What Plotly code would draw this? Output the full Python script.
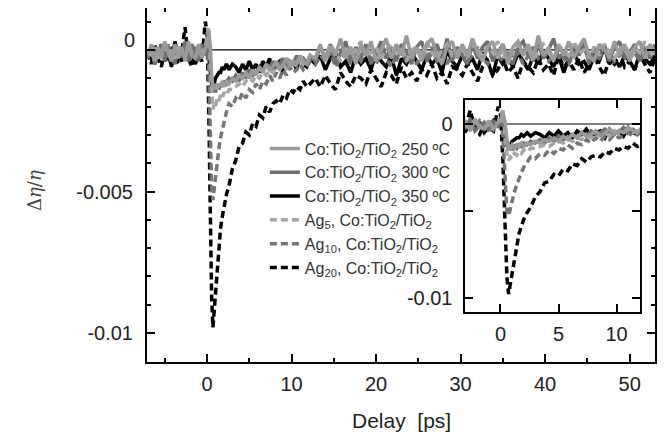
import plotly.graph_objects as go

# Delay axis (ps) - sampling points of the traces
delay = [
    -7.0, -6.6, -6.2, -5.8, -5.4, -5.0, -4.6, -4.2, -3.8, -3.4,
    -3.0, -2.6, -2.2, -1.8, -1.4, -1.0, -0.6, -0.2,
    0.0, 0.2, 0.4, 0.55, 0.7, 0.85, 1.0, 1.2, 1.4, 1.6, 1.8, 2.0, 2.3, 2.6, 3.0,
    3.4, 3.8, 4.2, 4.6, 5.0, 5.4, 5.8, 6.2, 6.6, 7.0,
    7.4, 7.8, 8.2, 8.6, 9.0, 9.4, 9.8, 10.2, 10.6, 11.0,
    11.4, 11.8, 12.2,
    12.8, 13.4, 14.0, 14.6, 15.2, 15.8, 16.4, 17.0, 17.6, 18.2,
    18.8, 19.4, 20.0, 20.6, 21.2, 21.8, 22.4, 23.0, 23.6, 24.2,
    24.8, 25.4, 26.0, 26.6, 27.2, 27.8, 28.4, 29.0, 29.6, 30.2,
    30.8, 31.4, 32.0, 32.6, 33.2, 33.8, 34.4, 35.0, 35.6, 36.2,
    36.8, 37.4, 38.0, 38.6, 39.2, 39.8, 40.4, 41.0, 41.6, 42.2,
    42.8, 43.4, 44.0, 44.6, 45.2, 45.8, 46.4, 47.0, 47.6, 48.2,
    48.8, 49.4, 50.0, 50.6, 51.2, 51.8, 52.4, 53.0,
]

UNIT = 1e-4  # values below are Δη/η in units of 1e-4

co250 = [
    -2, 2, -4, 1, -3, 3, -1, -4, 2, -3, 1, -4, 3, -2, -3, 2, -3, 1,
    2, 7, 1, -9, -13, -14, -12, -14, -12, -13, -11, -13, -11, -12, -10,
    -11, -9, -10, -8, -10, -7, -9, -6, -8, -5, -7, -6, -4, -7, -5, -3, -6, -4, -5, -2, -4, -5, -2,
    -3, 2, -4, 1, -2, 4, -3, 1, -5, 2,
    -2, 3, -4, 0, 4, -3, 2, -2, 5, -3,
    1, -4, 2, 4, -2, -5, 1, 3, -3, 2,
    -2, 4, -1, -4, 1, 3, -3, 2, -5, 1,
    3, -2, 2, -3, 5, -2, 1, -4, 2, -2,
    3, -3, 1, 4, -2, -4, 2, 0, -3, 3,
    -2, 2, -4, 1, 3, -3, 2, -1,
]

co300 = [
    -3, 1, -5, -1, 2, -4, 1, -3, -5, 1, -2, 3, -4, -1, 1, -4, 2, -2,
    1, 2, -5, -11, -15, -13, -15, -12, -14, -12, -13, -11, -12, -10, -11,
    -9, -11, -8, -10, -7, -9, -8, -6, -8, -5, -7, -4, -6, -5, -3, -6, -4, -5, -2, -4, -3, -5, -2,
    -4, 1, -3, 2, -5, -1, 3, -4, 1, -3,
    2, -5, -1, 3, -3, 1, -4, 2, -1, -5,
    1, 3, -4, -1, 2, -3, 4, -4, 1, -2,
    -5, 2, -3, 1, 3, -4, -1, 2, -3, -5,
    1, 3, -2, -4, 2, -3, 0, 4, -3, -1,
    -4, 2, -2, 3, -5, 1, -3, 2, -4, 1,
    3, -3, -1, 2, -4, 1, -3, 2,
]

co350 = [
    -3, 1, -5, -2, 2, -4, -1, -6, 3, -2, -4, 0, -3, 1, -5, -2, 2, 0,
    3, -2, -8, -12, -13, -12, -10, -9, -8, -8, -6, -7, -5, -7, -5,
    -6, -8, -5, -7, -4, -7, -5, -8, -4, -6, -3, -7, -5, -4, -8, -3, -6, -4, -7, -2, -5, -6, -3,
    -5, -2, -7, -3, -1, -6, -4, -8, -2, -5,
    -3, -7, -1, -4, -6, -2, -9, -3, -5, -1,
    -4, -7, -2, -5, -3, -8, 0, -4, -6, -2,
    -5, -3, -7, -1, -4, -9, -2, -5, -3, -6,
    -1, -4, -7, -2, -5, 0, -3, -6, -2, -8,
    -3, -1, -5, -4, -7, -2, -4, 1, -5, -3,
    -6, -2, -4, -7, -1, -3, -5, -2,
]

ag5 = [
    0, -2, 1, -3, -1, 2, -2, 0, -3, 1, -1, -2, 2, -1, -3, 0, -1, 1,
    5, 8, -6, -17, -21, -19, -20, -17, -18, -16, -17, -15, -16, -14, -14,
    -13, -12, -13, -11, -10, -11, -9, -10, -8, -9, -7, -8, -6, -7, -5, -7, -4, -6, -5, -3, -5, -4, -2,
    -3, 0, -2, 2, -1, -4, 1, -2, 0, 3,
    -2, -1, 1, -3, 0, 2, -2, 1, -4, 0,
    1, -2, 3, -1, -3, 0, 2, -2, -1, 1,
    -3, 2, 0, -2, 1, -1, 3, -3, 0, -1,
    2, -2, 1, -4, 0, 2, -1, -3, 1, 0,
    -2, 3, -1, 0, -3, 1, -2, 2, -1, -3,
    0, 2, -2, 1, -1, 3, -2, 0,
]

ag10 = [
    -2, 1, -3, -1, 0, -4, 2, -2, -1, 1, -3, 0, -2, 2, -1, -3, 0, 1,
    2, -6, -30, -50, -53, -49, -43, -39, -35, -31, -28, -25, -22, -19, -20,
    -17, -18, -15, -17, -14, -15, -12, -14, -11, -12, -9, -11, -8, -10, -7, -9, -6, -8, -7, -5, -7, -6, -4,
    -5, -2, -4, -1, -6, -3, -1, -5, -2, -4,
    0, -3, -5, -1, -3, -6, -2, 0, -4, -2,
    -5, -1, -3, 1, -4, -2, -5, -1, -3, 0,
    -4, -2, 1, -3, -5, -1, -2, -4, 0, -3,
    -1, -5, -2, 1, -3, -1, -4, -2, 0, -3,
    -5, -1, -2, 1, -4, -2, -3, 0, -1, -4,
    -2, 1, -3, -1, -4, 0, -2, -1,
]

ag20 = [
    -1, -5, 2, -3, -6, 0, -4, 1, -2, -5, -1, 8, -3, -6, 0, -2, -4, 10,
    6, -20, -60, -88, -98, -92, -86, -80, -70, -63, -59, -55, -51, -48, -42,
    -39, -34, -33, -29, -30, -26, -27, -23, -24, -20, -22, -19, -18, -19, -16, -17, -14, -15, -13, -14, -11, -13, -12,
    -10, -13, -9, -12, -14, -8, -11, -13, -9, -10,
    -12, -7, -10, -13, -8, -9, -12, -6, -10, -8,
    -11, -7, -9, -5, -10, -8, -12, -6, -7, -9,
    -5, -8, -11, -6, -4, -9, -7, -3, -8, -6,
    -10, -4, -6, -8, -3, -7, -5, -9, -2, -6,
    -4, -7, -3, -8, -5, -2, -6, -9, -3, -5,
    -1, -6, -4, -7, -2, -5, -8, -3,
]

series_names = [
    "Co:TiO<sub>2</sub>/TiO<sub>2</sub> 250 ºC",
    "Co:TiO<sub>2</sub>/TiO<sub>2</sub> 300 ºC",
    "Co:TiO<sub>2</sub>/TiO<sub>2</sub> 350 ºC",
    "Ag<sub>5</sub>, Co:TiO<sub>2</sub>/TiO<sub>2</sub>",
    "Ag<sub>10</sub>, Co:TiO<sub>2</sub>/TiO<sub>2</sub>",
    "Ag<sub>20</sub>, Co:TiO<sub>2</sub>/TiO<sub>2</sub>",
]
series_values = [co250, co300, co350, ag5, ag10, ag20]
series_colors = ["#9a9a9a", "#6e6e6e", "#000000", "#a6a6a6", "#757575", "#000000"]
series_dash = ["solid", "solid", "solid", "7px,4px", "7px,4px", "7px,4px"]
draw_order = [5, 2, 4, 1, 3, 0]

main_xticks = [0, 10, 20, 30, 40, 50]
y_ticks = [0, -0.005, -0.01]
y_ticktext = ["", "-0.005", "-0.01"]   # the "0" label is placed slightly above its tick
inset_xticks = [0, 5, 10]
inset_ytext = ["0", "", "-0.01"]

FONT = "Liberation Sans, Arial, sans-serif"

fig = go.Figure()
n = len(delay)
for i in draw_order:
    yv = [v * UNIT for v in series_values[i][:n]]
    xv = delay[:len(yv)]
    line = dict(color=series_colors[i], width=3.5, dash=series_dash[i])
    fig.add_trace(go.Scatter(x=xv, y=yv, mode="lines", name=series_names[i],
                             line=line, legendrank=i + 1, xaxis="x", yaxis="y"))
    fig.add_trace(go.Scatter(x=xv, y=yv, mode="lines", showlegend=False,
                             line=line, xaxis="x2", yaxis="y2"))

axis_common = dict(showline=True, linecolor="black", linewidth=2, mirror="ticks",
                   ticks="inside", ticklen=8, tickwidth=2, tickcolor="black",
                   showgrid=False, zeroline=False, automargin=False,
                   tickfont=dict(family=FONT, size=20, color="#222"))

# the page body adds an 8 px offset; the figure is sized/margined to compensate
fig.update_layout(
    width=657, height=436,
    margin=dict(l=139, r=10, t=0, b=82, autoexpand=False),
    paper_bgcolor="white", plot_bgcolor="white",
    font=dict(family=FONT, color="#222"),
    xaxis=dict(range=[-7.1, 53.0], tickvals=main_xticks, domain=[0, 1],
               minor=dict(ticks="inside", ticklen=4, tickwidth=2, tickcolor="black",
                          tick0=-5, dtick=10),
               ticklabelstandoff=3, **axis_common),
    yaxis=dict(range=[-0.01102, 0.00148], tickvals=y_ticks, ticktext=y_ticktext,
               domain=[0, 1],
               minor=dict(ticks="inside", ticklen=4, tickwidth=2, tickcolor="black",
                          dtick=0.001, tick0=0),
               ticklabelstandoff=8, **axis_common),
    xaxis2=dict(range=[-3.1, 12.0], tickvals=inset_xticks, domain=[0.625, 0.970],
                anchor="y2", ticklabelstandoff=3, **axis_common),
    yaxis2=dict(range=[-0.01084, 0.00138], tickvals=y_ticks, ticktext=inset_ytext,
                domain=[0.141, 0.740], anchor="x2", ticklabelstandoff=6, **axis_common),
    legend=dict(x=0.232, y=0.651, xanchor="left", yanchor="top",
                bgcolor="rgba(0,0,0,0)", font=dict(family=FONT, size=16, color="#333"),
                itemwidth=30, tracegroupgap=0),
    showlegend=True,
)

# zero reference lines (from t = 0 to the right frame)
fig.add_shape(type="line", xref="x", yref="y", x0=0, x1=53.0, y0=0, y1=0,
              line=dict(color="black", width=1.2), layer="below")
fig.add_shape(type="line", xref="x2", yref="y2", x0=0, x1=12.0, y0=0, y1=0,
              line=dict(color="black", width=1.2), layer="below")

# main y-axis "0" label, drawn a little above the zero tick as in the original
fig.add_annotation(text="0", xref="paper", yref="y", x=0, y=0, xanchor="right",
                   yanchor="middle", xshift=-10, yshift=10, showarrow=False,
                   font=dict(family=FONT, size=20, color="#222"))

fig.add_annotation(text="Delay  [ps]", xref="paper", yref="paper", x=0.5, y=-0.164,
                   showarrow=False, xanchor="center", yanchor="middle",
                   font=dict(family=FONT, size=21, color="#222"))
fig.add_annotation(text="Δ<i>η</i>/<i>η</i>", xref="paper", yref="paper", x=-0.2205, y=0.486,
                   showarrow=False, textangle=-90, xanchor="center", yanchor="middle",
                   font=dict(family="DejaVu Serif, serif", size=18, color="#444"))

fig.write_html("out.html")
